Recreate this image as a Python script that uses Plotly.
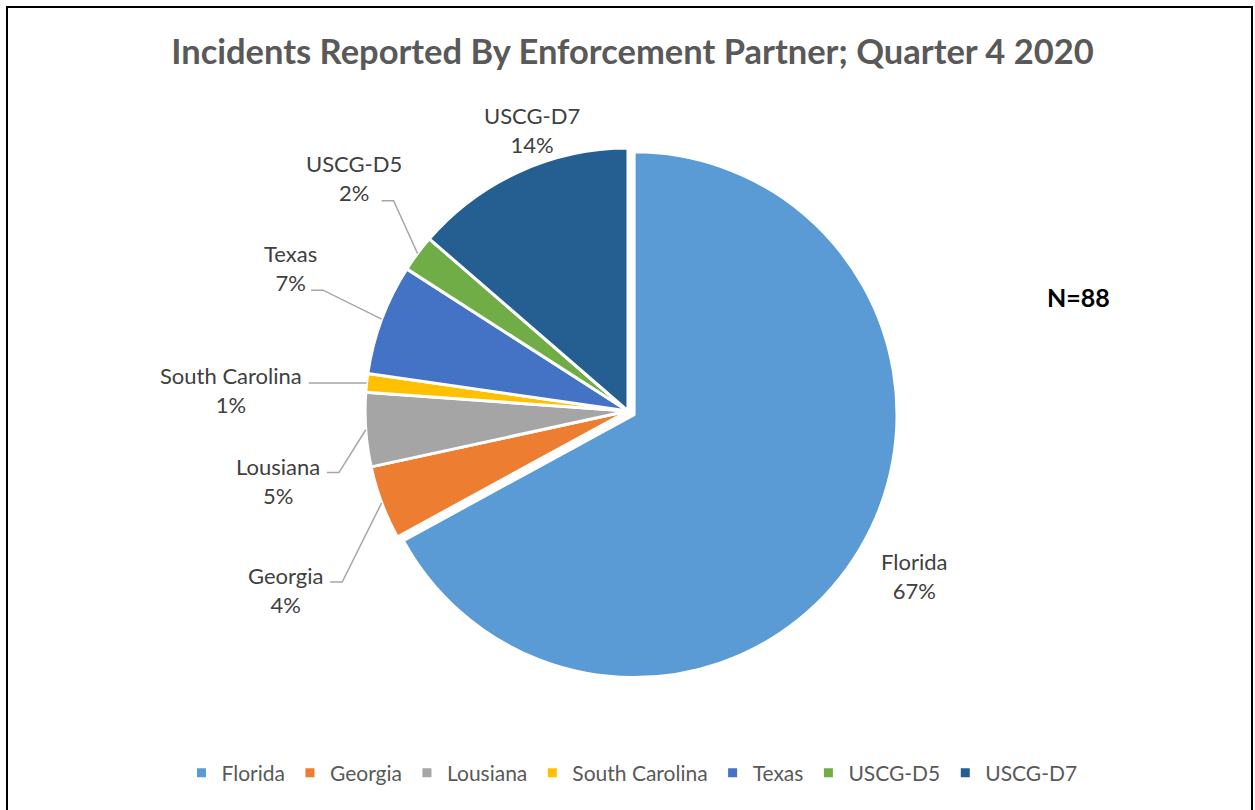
import math
import plotly.graph_objects as go

# ---- data ----
categories = ["Florida", "Georgia", "Lousiana", "South Carolina", "Texas", "USCG-D5", "USCG-D7"]
counts = [59, 4, 4, 1, 6, 2, 12]
pct_labels = ["67%", "4%", "5%", "1%", "7%", "2%", "14%"]
n_label = "N=88"
title_text = "Incidents Reported By Enforcement Partner; Quarter 4 2020"

# ---- styles ----
colors = ["#5B9BD5", "#ED7D31", "#A5A5A5", "#FFC000", "#4472C4", "#70AD47", "#255E91"]
pulls = [0.027, 0, 0, 0, 0, 0, 0]
FONT = "Lato"

W, H = 1255, 810
box_cx, box_cy, box_half = 628, 411, 270
dom_x = [(box_cx - box_half) / W, (box_cx + box_half) / W]
dom_y = [1 - (box_cy + box_half) / H, 1 - (box_cy - box_half) / H]
R = box_half / (1 + max(pulls))

# label placement: (anchor kind, angle offset from slice mid-angle in deg, distance px)
label_place = [
    ("center", -0.7, 330),
    ("right", -10.2, 352),
    ("right", -8.8, 314),
    ("right", -2.4, 325),
    ("right", 4.4, 341),
    ("right", 9.3, 323),
    ("center", 5.6, 297),
]


def px2paper(x, y):
    return x / W, 1 - y / H


def text_w(s):
    w = 0
    for c in s:
        if c.isdigit():
            w += 11
        elif c == "%":
            w += 17
        elif c == "-":
            w += 7
        elif c == " ":
            w += 5
        elif c.isupper():
            w += 13
        else:
            w += 10
    return w


fig = go.Figure()
fig.add_trace(go.Pie(
    labels=categories,
    values=counts,
    sort=False,
    direction="clockwise",
    rotation=0,
    pull=pulls,
    textinfo="none",
    marker=dict(colors=colors, line=dict(color="white", width=3)),
    domain=dict(x=dom_x, y=dom_y),
    hoverinfo="label+value+percent",
))

annotations = []
shapes = []
total = sum(counts)
cum = 0
line_gap = 14.5
for i, (cat, v) in enumerate(zip(categories, counts)):
    mid = (cum + v / 2) / total * 360
    cum += v
    kind, dang, dist = label_place[i]
    a = math.radians(mid + dang)
    ax = box_cx + dist * math.sin(a)
    ay = box_cy - dist * math.cos(a)
    px, py = px2paper(ax, ay)
    annotations.append(dict(
        x=px, y=py, xref="paper", yref="paper",
        text=f"{cat}<br>{pct_labels[i]}", showarrow=False, align="center",
        xanchor="center" if kind == "center" else "right", yanchor="middle",
        font=dict(family=FONT, size=22, color="#404040"),
    ))
    if kind == "right":
        m = math.radians(mid)
        sx = box_cx + R * math.sin(m)
        sy = box_cy - R * math.cos(m)
        yl = min(max(sy, ay - line_gap + 6), ay + line_gap + 8)
        wl, wp = text_w(cat), text_w(pct_labels[i])
        bw = max(wl, wp)
        row_w = wp if yl > ay + line_gap else wl
        x_start = ax - (bw - row_w) / 2 + 5
        p0 = px2paper(x_start, yl)
        p1 = px2paper(x_start + 12, yl)
        p2 = px2paper(sx, sy)
        shapes.append(dict(
            type="path", xref="paper", yref="paper",
            path=f"M {p0[0]},{p0[1]} L {p1[0]},{p1[1]} L {p2[0]},{p2[1]}",
            line=dict(color="#A6A6A6", width=1.5),
        ))

# N label
nx, ny = px2paper(1078, 297)
annotations.append(dict(
    x=nx, y=ny, xref="paper", yref="paper", text=f"<b>{n_label}</b>", showarrow=False,
    xanchor="center", yanchor="middle", font=dict(family=FONT, size=25, color="#000000"),
))

# outer frame
shapes.append(dict(
    type="rect", xref="paper", yref="paper",
    x0=7 / W, x1=1252 / W, y0=-0.05, y1=1 - 7 / H,
    line=dict(color="#000000", width=2), fillcolor="rgba(0,0,0,0)", layer="above",
))

fig.update_layout(
    width=W, height=H,
    margin=dict(l=0, r=0, t=0, b=0),
    paper_bgcolor="white", plot_bgcolor="white",
    title=dict(
        text=f"<b>{title_text}</b>", x=632.5 / W, xanchor="center",
        y=1 - 52 / H, yanchor="middle", yref="container",
        font=dict(family=FONT, size=34.5, color="#595959"),
    ),
    legend=dict(
        orientation="h", x=632 / W, xanchor="center", y=1 - 773 / H, yanchor="middle",
        font=dict(family=FONT, size=21, color="#595959"), traceorder="normal",
    ),
    annotations=annotations,
    shapes=shapes,
)

fig.write_html(
    "out.html",
    config={"displayModeBar": False},
    post_script="document.body.style.margin='0';document.body.style.overflow='hidden';",
)
